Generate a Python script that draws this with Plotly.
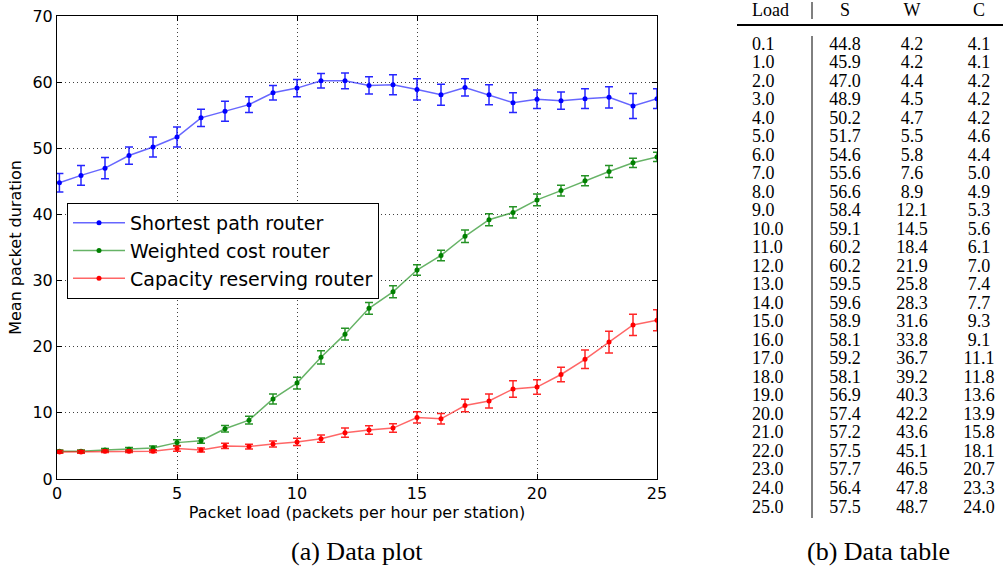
import plotly.graph_objects as go

# ---------------- data ----------------
load = [0.1, 1.0, 2.0, 3.0, 4.0, 5.0, 6.0, 7.0, 8.0, 9.0, 10.0, 11.0, 12.0,
        13.0, 14.0, 15.0, 16.0, 17.0, 18.0, 19.0, 20.0, 21.0, 22.0, 23.0, 24.0, 25.0]
shortest = [44.8, 45.9, 47.0, 48.9, 50.2, 51.7, 54.6, 55.6, 56.6, 58.4, 59.1, 60.2, 60.2,
            59.5, 59.6, 58.9, 58.1, 59.2, 58.1, 56.9, 57.4, 57.2, 57.5, 57.7, 56.4, 57.5]
weighted = [4.2, 4.2, 4.4, 4.5, 4.7, 5.5, 5.8, 7.6, 8.9, 12.1, 14.5, 18.4, 21.9,
            25.8, 28.3, 31.6, 33.8, 36.7, 39.2, 40.3, 42.2, 43.6, 45.1, 46.5, 47.8, 48.7]
capacity = [4.1, 4.1, 4.2, 4.2, 4.2, 4.6, 4.4, 5.0, 4.9, 5.3, 5.6, 6.1, 7.0,
            7.4, 7.7, 9.3, 9.1, 11.1, 11.8, 13.6, 13.9, 15.8, 18.1, 20.7, 23.3, 24.0]
shortest_err = [1.4, 1.5, 1.6, 1.3, 1.5, 1.5, 1.3, 1.5, 1.2, 1.1, 1.3, 1.1, 1.2,
                1.3, 1.5, 1.6, 1.6, 1.3, 1.5, 1.5, 1.4, 1.3, 1.5, 1.6, 1.9, 1.5]
weighted_err = [0.2, 0.2, 0.2, 0.25, 0.3, 0.45, 0.4, 0.5, 0.6, 0.75, 0.9, 1.0, 0.9,
                0.9, 0.9, 0.8, 0.8, 0.95, 0.9, 0.85, 0.9, 0.8, 0.75, 0.9, 0.7, 0.7]
capacity_err = [0.2, 0.2, 0.2, 0.2, 0.2, 0.4, 0.3, 0.4, 0.35, 0.45, 0.55, 0.55, 0.7,
                0.65, 0.65, 0.85, 0.8, 0.95, 1.05, 1.25, 1.1, 1.1, 1.4, 1.65, 1.6, 1.6]
series_names = ["Shortest path router", "Weighted cost router", "Capacity reserving router"]
table_headers = ["Load", "S", "W", "C"]
x_ticks = [0, 5, 10, 15, 20, 25]
y_ticks = [0, 10, 20, 30, 40, 50, 60, 70]
captions = ["(a) Data plot", "(b) Data table"]

# ---------------- layout constants ----------------
W, H = 1003, 570
PX_L, PX_R, PX_T, PX_B = 57, 657, 16, 479
colors = [(0, 0, 255), (0, 128, 0), (255, 0, 0)]
sans = "DejaVu Sans"
serif = "Liberation Serif"

fig = go.Figure()

for name, ys, es, c in zip(series_names, [shortest, weighted, capacity],
                           [shortest_err, weighted_err, capacity_err], colors):
    r, g, b = c
    fig.add_trace(go.Scatter(
        x=load, y=ys, name=name, mode="lines+markers",
        line=dict(color=f"rgba({r},{g},{b},0.6)", width=1.5),
        marker=dict(color=f"rgb({r},{g},{b})", size=5),
        error_y=dict(type="data", array=es, visible=True,
                     color=f"rgba({r},{g},{b},0.85)", thickness=1.5, width=4),
        hoverinfo="skip", xaxis="x", yaxis="y",
    ))

# ---------------- table (on its own hidden axes) ----------------
row_y0, row_dy = 45, 18.52
col_x = [752, 845, 912, 979]
rows = list(range(len(load)))
table_cols = [[f"{v:.1f}" for v in load],
              [f"{v:.1f}" for v in shortest],
              [f"{v:.1f}" for v in weighted],
              [f"{v:.1f}" for v in capacity]]
header_row = (11 - row_y0) / row_dy
for i, (cx, col) in enumerate(zip(col_x, table_cols)):
    pos = "middle right" if i == 0 else "middle center"
    fig.add_trace(go.Scatter(
        x=[cx] * (len(col) + 1), y=[header_row] + rows,
        text=[table_headers[i]] + col, mode="text", textposition=pos,
        textfont=dict(family=serif, size=18, color="black"),
        showlegend=False, hoverinfo="skip", xaxis="x2", yaxis="y2",
    ))

# rules of the table
fig.add_shape(type="line", xref="x2", yref="y2", x0=737, x1=1003,
              y0=(25 - row_y0) / row_dy, y1=(25 - row_y0) / row_dy,
              line=dict(color="black", width=2))
fig.add_shape(type="line", xref="x2", yref="y2", x0=812, x1=812,
              y0=(2 - row_y0) / row_dy, y1=(19 - row_y0) / row_dy,
              line=dict(color="black", width=1))
fig.add_shape(type="line", xref="x2", yref="y2", x0=812, x1=812,
              y0=(36 - row_y0) / row_dy, y1=(518 - row_y0) / row_dy,
              line=dict(color="black", width=1))

# captions
for txt, cx in zip(captions, [357, 878]):
    fig.add_annotation(text=txt, x=cx / W, y=1 - 551 / H, xref="paper", yref="paper",
                       xanchor="center", yanchor="middle", showarrow=False,
                       font=dict(family=serif, size=26, color="black"))

axis_common = dict(showline=True, linecolor="black", linewidth=1, mirror="allticks",
                   ticks="inside", ticklen=5, tickcolor="black",
                   showgrid=True, gridcolor="rgba(0,0,0,0.75)", gridwidth=1,
                   griddash="1px,3px",
                   zeroline=False, automargin=False,
                   tickfont=dict(family=sans, size=16, color="black"))

fig.update_layout(
    width=W, height=H,
    margin=dict(l=0, r=0, t=0, b=0),
    paper_bgcolor="white", plot_bgcolor="rgba(0,0,0,0)",
    showlegend=True,
    xaxis=dict(domain=[PX_L / W, PX_R / W], range=[0, 25], tickvals=x_ticks,
               title=dict(text="Packet load (packets per hour per station)",
                          font=dict(family=sans, size=16, color="black"), standoff=4),
               anchor="y", **axis_common),
    yaxis=dict(domain=[1 - PX_B / H, 1 - PX_T / H], range=[0, 70], tickvals=y_ticks,
               title=dict(text="Mean packet duration",
                          font=dict(family=sans, size=16, color="black"), standoff=6),
               anchor="x", **axis_common),
    xaxis2=dict(domain=[0, 1], range=[0, W], visible=False, fixedrange=True, anchor="y2"),
    yaxis2=dict(domain=[0, 1], range=[(H - row_y0) / row_dy, (0 - row_y0) / row_dy],
                visible=False, fixedrange=True, anchor="x2"),
    legend=dict(x=67 / W, y=1 - 203 / H, xanchor="left", yanchor="top",
                bgcolor="white", bordercolor="black", borderwidth=1,
                itemwidth=52,
                font=dict(family=sans, size=19, color="black"), tracegroupgap=0),
)

fig.write_html("out.html")
